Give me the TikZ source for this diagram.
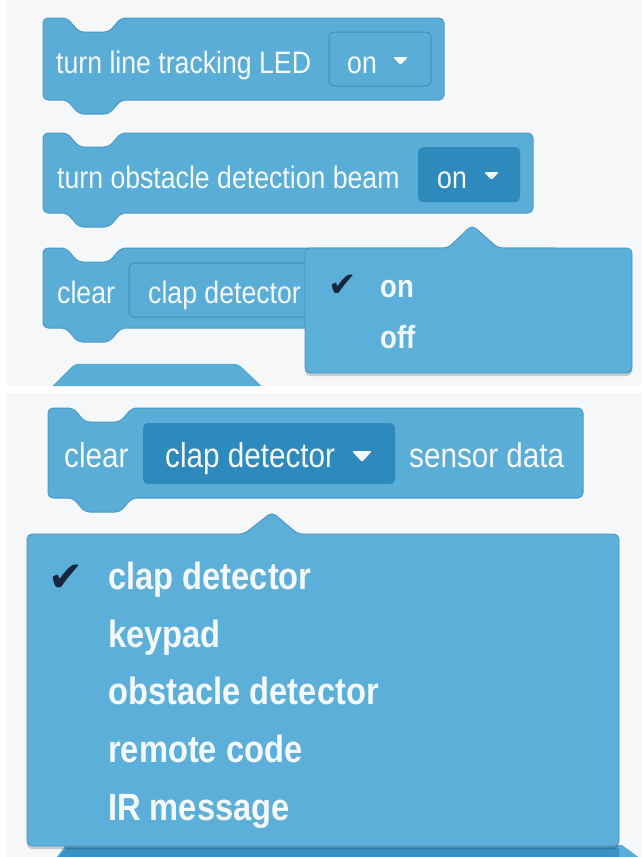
\documentclass[tikz,border=0pt]{standalone}
\usepackage{fontspec}
\setmainfont{Liberation Sans}[FakeStretch=0.86]
\newfontfamily\tickfont{DejaVu Sans}
\usepackage{tikz}
\usetikzlibrary{calc, shadows}

\definecolor{blockblue}{HTML}{5AADD6}
\definecolor{blockedge}{HTML}{4A9BC8}
\definecolor{fielddark}{HTML}{2E89BC}
\definecolor{fieldedge}{HTML}{3F8EBC}
\definecolor{popblue}{HTML}{5CAFD8}
\definecolor{popedge}{HTML}{4893BF}
\definecolor{panelgray}{HTML}{F6F7F8}
\definecolor{labelwhite}{HTML}{F4F9FC}
\definecolor{tickblue}{HTML}{16263D}

% left, top, right, bottom, notch start, notch flat
\newcommand{\stackblock}[6]{%
	\draw[block] (#1,#2) -- (#5,#2) -- ++(12,14) -- ++(#6,0) -- ++(12,-14) -- (#3,#2)
		-- (#3,#4) -- (#5+24+#6,#4) -- ++(-12,14) -- ++(-#6,0) -- ++(-12,-14) -- (#1,#4) -- cycle;
}

\begin{document}
\begin{tikzpicture}[x=1pt, y=-1pt]
		\tikzstyle{block} = [fill=blockblue, draw=blockedge, line width=1pt, rounded corners=5pt]
		\tikzstyle{field} = [fill=blockblue, draw=fieldedge, line width=1pt, rounded corners=5pt]
		\tikzstyle{darkfield} = [fill=fielddark, rounded corners=5pt]
		\tikzstyle{popup} = [fill=popblue, draw=popedge, line width=0.8pt, rounded corners=5pt,
			drop shadow={shadow xshift=0pt, shadow yshift=-3pt, opacity=0.18, fill=black}]
		\tikzstyle{txt} = [anchor=mid west, yshift=-9pt, inner sep=0pt, text=labelwhite, font=\fontsize{31}{36}\selectfont]
		\tikzstyle{bigtxt} = [txt, font=\fontsize{34.5}{40}\selectfont]
		\tikzstyle{item} = [txt, font=\bfseries\fontsize{32}{38}\selectfont]
		\tikzstyle{bigitem} = [txt, font=\bfseries\fontsize{38}{44}\selectfont]
		\tikzstyle{tick} = [inner sep=0pt, text=tickblue, font=\tickfont\fontsize{34}{38}\selectfont]
		\tikzstyle{arrowtri} = [fill=labelwhite, rounded corners=1.5pt]
		
		\useasboundingbox (0,0) rectangle (641,857);
		\fill[panelgray] (7,0) rectangle (641,386);
		\fill[panelgray] (7,393) rectangle (641,857);
		
		% upper screenshot
		\stackblock{43}{18}{444}{100}{67}{30}
		\draw[field] (329,32) rectangle (431,86);
		\node[txt] at (56,62) (led) {turn line tracking LED};
		\node[txt] at (347,62) (ledval) {on};
		\fill[arrowtri] (393,57) -- (408,57) -- (400.5,65) -- cycle;
		
		\stackblock{43}{133}{533}{213}{67}{30}
		\fill[darkfield] (418,147) rectangle (520,202);
		\node[txt] at (57,177) (beam) {turn obstacle detection beam};
		\node[txt] at (437,177) (beamval) {on};
		\fill[arrowtri] (484,172) -- (499,172) -- (491.5,180) -- cycle;
		
		\stackblock{43}{248}{560}{328}{66}{31}
		\draw[field] (129,263) rectangle (380,317);
		\node[txt] at (57,292) (clear) {clear};
		\node[txt] at (148,292) (sensor) {clap detector};
		
		\fill[blockblue] (53,386) [rounded corners=4pt] -- (75,364) -- (238,364) [sharp corners] -- (261,386) -- cycle;
		\draw[blockedge] (53,386) [rounded corners=4pt] -- (75,364) -- (238,364) [sharp corners] -- (261,386);
		
		\draw[popup] (305,248) -- (448,248) -- (472,225) -- (498,248) -- (632,248)
			-- (632,373) -- (305,373) -- cycle;
		\node[tick] at (343,286) (tickon) {✔};
		\node[item] at (380,286) (on) {on};
		\node[item] at (380,337) (off) {off};
		
		% lower screenshot
		\stackblock{48}{408}{583}{498}{73}{35}
		\fill[darkfield] (143,423) rectangle (395,484);
		\node[bigtxt] at (64,456) (clear2) {clear};
		\node[bigtxt] at (165,456) (sensor2) {clap detector};
		\fill[arrowtri] (352,451) -- (372,451) -- (362,462) -- cycle;
		\node[bigtxt] at (409,456) (data) {sensor data};
		
		\fill[blockblue] (56,858) -- (66,845) -- (622,845) -- (641,859) -- cycle;
		\fill[fielddark!75!blockblue] (58,858) -- (66,848) -- (619,848) -- (619,858) -- cycle;
		\draw[fieldedge] (290,848) -- (290,857);
		\draw[fieldedge] (497,848) -- (497,857);
		
		\draw[popup] (27,534) -- (244,534) -- (272,512) -- (298,534) -- (619,534)
			-- (619,846) -- (27,846) -- cycle;
		\node[tick, font=\tickfont\fontsize{42}{46}\selectfont] at (66,578) (tick2) {✔};
		\foreach \name/\y/\label in {clap/578/clap detector, keypad/636/keypad,
			obstacle/693/obstacle detector, remote/751/remote code, ir/809/IR message}
			\node[bigitem] at (108,\y) (\name) {\label};
\end{tikzpicture}
\end{document}
